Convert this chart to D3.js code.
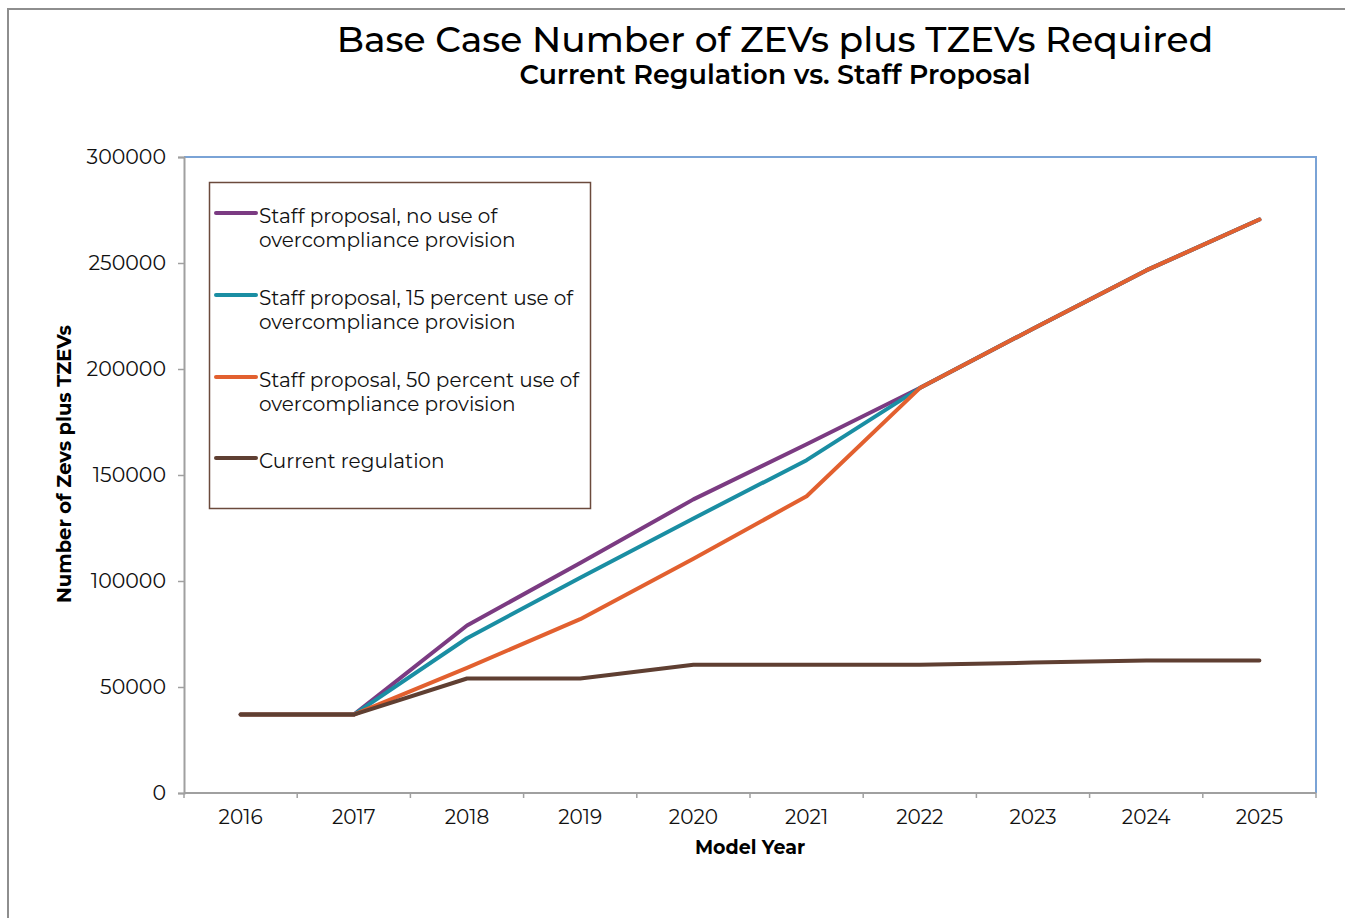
<!DOCTYPE html>
<html>
<head>
<meta charset="utf-8">
<script src="https://cdn.jsdelivr.net/npm/d3@7"></script>
<style>
  body { margin: 0; background: #fff; }
  svg { font-family: "Montserrat", "Open Sans", sans-serif; }
</style>
</head>
<body>
<svg id="vis-svg" width="1345" height="918"></svg>
<script>
const years = ["2016", "2017", "2018", "2019", "2020", "2021", "2022", "2023", "2024", "2025"]

const noOvercompliance = [37000, 37000, 79000, 108500, 138500, 164500, 191000, 219000, 246500, 270500]
const pct15Overcompliance = [37000, 37000, 73000, 101500, 129500, 157000, 191000, 219000, 246500, 270500]
const pct50Overcompliance = [37000, 37000, 59000, 82000, 110500, 140000, 191000, 219000, 246500, 270500]
const currentRegulation = [37000, 37000, 54000, 54000, 60500, 60500, 60500, 61500, 62500, 62500]

const yTicks = [0, 50000, 100000, 150000, 200000, 250000, 300000]

const series = [
  { name: ["Staff proposal, no use of", "overcompliance provision"], values: noOvercompliance, color: "#7b3b82" },
  { name: ["Staff proposal, 15 percent use of", "overcompliance provision"], values: pct15Overcompliance, color: "#1a8ea3" },
  { name: ["Staff proposal, 50 percent use of", "overcompliance provision"], values: pct50Overcompliance, color: "#e2602f" },
  { name: ["Current regulation"], values: currentRegulation, color: "#5f3f32" }
]

const svg = d3.select("#vis-svg")
const plotLeft = 184, plotRight = 1316, plotTop = 157, plotBottom = 793

// outer frame
svg.append("path")
  .attr("d", "M8,918 V9 H1345")
  .attr("fill", "none")
  .attr("stroke", "#8e8e8e")
  .attr("stroke-width", 2)

const x = d3.scaleBand().domain(years).range([plotLeft, plotRight])
const y = d3.scaleLinear().domain([0, 300000]).range([plotBottom, plotTop])

// plot frame, top and right in blue
svg.append("path")
  .attr("d", `M${plotLeft},${plotTop} H${plotRight} V${plotBottom}`)
  .attr("fill", "none")
  .attr("stroke", "#7aa3d6")
  .attr("stroke-width", 2)

// y axis
const yAxis = svg.append("g")
  .attr("transform", `translate(${plotLeft},0)`)
  .call(d3.axisLeft(y).tickValues(yTicks).tickSize(6).tickPadding(12).tickFormat(d3.format("d")))
  .attr("font-family", null)
  .attr("font-size", null)
yAxis.select(".domain").attr("stroke", "#a0a0a0").attr("stroke-width", 2)
yAxis.selectAll(".tick line").attr("stroke", "#a0a0a0").attr("stroke-width", 1.5)
yAxis.selectAll(".tick text").attr("font-size", 20.5).attr("fill", "#111")

// x axis: labels at centres, ticks at band edges
const xAxis = svg.append("g")
  .attr("transform", `translate(0,${plotBottom})`)
  .call(d3.axisBottom(x).tickSize(0).tickPadding(17))
  .attr("font-family", null)
  .attr("font-size", null)
xAxis.select(".domain").remove()
xAxis.selectAll(".tick text").attr("font-size", 20).attr("fill", "#111")

svg.append("line")
  .attr("x1", plotLeft).attr("x2", plotRight).attr("y1", plotBottom).attr("y2", plotBottom)
  .attr("stroke", "#a0a0a0").attr("stroke-width", 2)
svg.append("g").selectAll("line")
  .data(d3.range(years.length + 1))
  .join("line")
    .attr("x1", i => x.range()[0] + i * x.step())
    .attr("x2", i => x.range()[0] + i * x.step())
    .attr("y1", plotBottom).attr("y2", plotBottom + 5)
    .attr("stroke", "#a0a0a0").attr("stroke-width", 1.5)

// lines
const line = d3.line()
  .x((d, i) => x(years[i]) + x.bandwidth() / 2)
  .y(d => y(d))

svg.append("g").selectAll("path")
  .data(series)
  .join("path")
    .attr("d", s => line(s.values))
    .attr("fill", "none")
    .attr("stroke", s => s.color)
    .attr("stroke-width", 4)
    .attr("stroke-linejoin", "round")
    .attr("stroke-linecap", "round")

// legend
const legend = svg.append("g")
legend.append("rect")
  .attr("x", 209.5).attr("y", 182.5).attr("width", 381).attr("height", 326)
  .attr("fill", "#fff").attr("stroke", "#6b4a3c").attr("stroke-width", 1.5)

const legendRows = [213, 295, 377, 458]
series.forEach((s, i) => {
  const g = legend.append("g").attr("transform", `translate(0,${legendRows[i]})`)
  g.append("line")
    .attr("x1", 216).attr("x2", 256).attr("y1", 0).attr("y2", 0)
    .attr("stroke", s.color).attr("stroke-width", 4).attr("stroke-linecap", "round")
  g.selectAll("text")
    .data(s.name)
    .join("text")
      .attr("x", 259)
      .attr("y", (d, j) => 10 + j * 24)
      .attr("font-size", 20)
      .attr("fill", "#111")
      .text(d => d)
})

// titles
svg.append("text")
  .attr("x", 775).attr("y", 52)
  .attr("text-anchor", "middle")
  .attr("font-size", 36)
  .attr("font-weight", 500)
  .attr("fill", "#000")
  .text("Base Case Number of ZEVs plus TZEVs Required")
svg.append("text")
  .attr("x", 775).attr("y", 84)
  .attr("text-anchor", "middle")
  .attr("font-size", 27)
  .attr("font-weight", 600)
  .attr("fill", "#000")
  .text("Current Regulation vs. Staff Proposal")

svg.append("text")
  .attr("x", 750).attr("y", 854)
  .attr("text-anchor", "middle")
  .attr("font-size", 19)
  .attr("font-weight", "bold")
  .attr("fill", "#000")
  .text("Model Year")

svg.append("text")
  .attr("transform", "translate(71,464) rotate(-90)")
  .attr("text-anchor", "middle")
  .attr("font-size", 19.5)
  .attr("font-weight", "bold")
  .attr("fill", "#000")
  .text("Number of Zevs plus TZEVs")
</script>
</body>
</html>
